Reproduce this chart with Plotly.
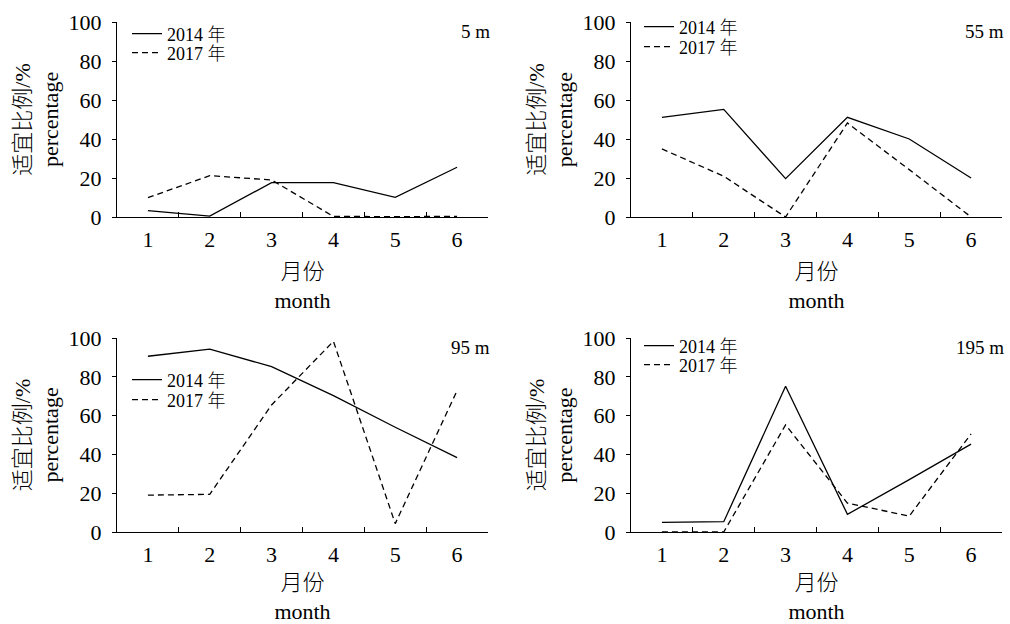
import plotly.graph_objects as go

# Months on the x axis
months = ["1", "2", "3", "4", "5", "6"]

# Suitable-habitat percentage by depth layer
depth_labels = ["5 m", "55 m", "95 m", "195 m"]
pct_2014_5m = [3.3, 0.5, 17.6, 17.6, 10.1, 25.5]
pct_2017_5m = [9.9, 21.2, 19.0, 0.3, 0.2, 0.3]
pct_2014_55m = [51.1, 55.2, 19.7, 51.1, 40.0, 20.0]
pct_2017_55m = [34.9, 20.9, 0.0, 48.2, 24.3, 0.0]
pct_2014_95m = [90.6, 94.3, 85.2, 70.3, 54.0, 38.3]
pct_2017_95m = [19.0, 19.4, 65.5, 98.3, 4.3, 72.9]
pct_2014_195m = [5.0, 5.3, 75.1, 9.1, 27.0, 45.3]
pct_2017_195m = [0.0, 0.0, 55.2, 14.9, 8.2, 50.6]

series_2014 = [pct_2014_5m, pct_2014_55m, pct_2014_95m, pct_2014_195m]
series_2017 = [pct_2017_5m, pct_2017_55m, pct_2017_95m, pct_2017_195m]

LIGHT = "<span style='font-weight:300'>{}</span>"
year_names = ["2014 " + LIGHT.format("年"), "2017 " + LIGHT.format("年")]
x_title = LIGHT.format("月份") + "<br>month"
y_title = LIGHT.format("适宜比例") + "/%<br>percentage"

W, H = 1010, 624
FONT = "Times New Roman, Liberation Serif, Tinos, DejaVu Serif, Noto Sans CJK SC, serif"

# Panel plot-area boxes in pixels: (left, right, top, bottom)
boxes = [(117, 488, 22, 217), (631, 1002, 22, 217),
         (117, 488, 338, 532), (631, 1002, 338, 532)]
# Legend row centres in pixels per panel: (left, y of 2014 row, y of 2017 row)
legend_rows = [(135, 34, 53), (647, 27, 47), (135, 380, 400), (647, 346, 365)]

fig = go.Figure()
layout = dict(
    width=W, height=H, showlegend=True,
    margin=dict(l=0, r=0, t=0, b=0, autoexpand=False),
    paper_bgcolor="white", plot_bgcolor="white",
    font=dict(family=FONT, size=21, color="black"),
    annotations=[],
)

for i in range(4):
    n = "" if i == 0 else str(i + 1)
    xa, ya = "x" + n, "y" + n
    l, r, t, b = boxes[i]
    lg_a = "legend" + str(2 * i + 2)
    lg_b = "legend" + str(2 * i + 3)
    fig.add_trace(go.Scatter(
        x=months, y=series_2014[i], mode="lines", name=year_names[0],
        line=dict(color="black", width=1.3), xaxis=xa, yaxis=ya, legend=lg_a))
    fig.add_trace(go.Scatter(
        x=months, y=series_2017[i], mode="lines", name=year_names[1],
        line=dict(color="black", width=1.3, dash="6px,4px"),
        xaxis=xa, yaxis=ya, legend=lg_b))

    layout["xaxis" + n] = dict(
        domain=[l / W, r / W], anchor=ya, type="category",
        categoryorder="array", categoryarray=months, range=[-0.5, 5.5],
        showline=True, linecolor="black", linewidth=1.2,
        ticks="inside", ticklen=5, tickwidth=1, tickcolor="black",
        tickson="boundaries", ticklabelstandoff=2,
        showgrid=False, zeroline=False, automargin=False,
        tickfont=dict(family=FONT, size=22),
        title=dict(text=x_title, font=dict(family=FONT, size=22), standoff=13),
    )
    layout["yaxis" + n] = dict(
        domain=[1 - b / H, 1 - t / H], anchor=xa, range=[0, 100],
        tickvals=[0, 20, 40, 60, 80, 100],
        showline=True, linecolor="black", linewidth=1.2,
        ticks="outside", ticklen=4, tickwidth=1, tickcolor="black",
        ticklabelstandoff=6, showgrid=False, zeroline=False, automargin=False,
        tickfont=dict(family=FONT, size=22),
        title=dict(text=y_title, font=dict(family=FONT, size=22), standoff=3),
    )
    lx, y1, y2 = legend_rows[i]
    for name, yy in ((lg_a, y1), (lg_b, y2)):
        layout[name] = dict(
            x=(lx - 8) / W, y=1 - yy / H, xanchor="left", yanchor="middle",
            bgcolor="rgba(0,0,0,0)", borderwidth=0,
            font=dict(family=FONT, size=18), itemwidth=30,
        )
    layout["annotations"].append(dict(
        text=depth_labels[i], xref=xa + " domain", yref=ya + " domain",
        x=1.01, y=0.95, xanchor="right", yanchor="middle", showarrow=False,
        font=dict(family=FONT, size=19)))

fig.update_layout(**layout)
fig.write_html("out.html")
